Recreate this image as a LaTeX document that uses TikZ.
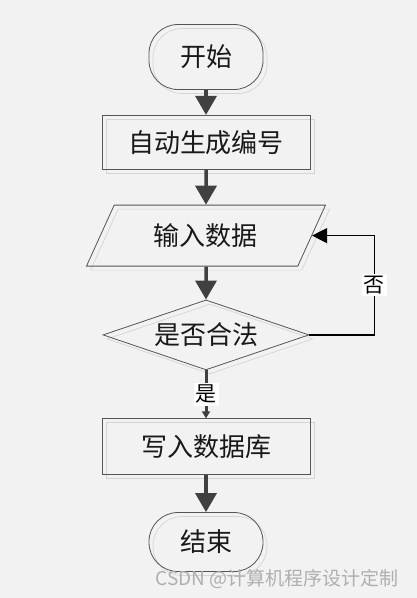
\documentclass[tikz,border=0pt]{standalone}
\usepackage{fontspec}
\setmainfont{Noto Sans CJK SC}
\usetikzlibrary{shapes,arrows.meta,positioning,shadows}
\definecolor{bggray}{RGB}{242,242,242}
\definecolor{linegray}{RGB}{64,64,64}
\definecolor{edgegray}{RGB}{85,85,85}
\definecolor{ghostgray}{RGB}{212,212,212}
\definecolor{markgray}{RGB}{175,175,175}

\begin{document}
\begin{tikzpicture}[
    x=1pt, y=1pt,
    node distance=25pt,
    base/.style={draw=edgegray, line width=0.8pt, text=black!90, align=center,
        font=\fontsize{26}{30}\selectfont,
        copy shadow={draw=ghostgray, fill=none, line width=0.7pt, shadow xshift=4pt, shadow yshift=-4pt}},
    term/.style={base, rectangle, rounded corners=29pt, minimum width=114pt, minimum height=62pt},
    proc/.style={base, rectangle, minimum width=208pt, minimum height=55pt},
    io/.style={base, trapezium, trapezium left angle=48, trapezium right angle=132,
        trapezium stretches body, minimum width=239pt, minimum height=61pt},
    check/.style={base, diamond, aspect=2.94, inner sep=0pt, minimum width=206pt, minimum height=70pt},
    arrow/.style={-{Triangle[width=21pt,length=19pt]}, line width=3.5pt, draw=linegray},
    back/.style={-{Triangle[width=15pt,length=15pt]}, line width=1.3pt, draw=black},
    tag/.style={fill=white, inner sep=2pt, font=\fontsize{21}{23}\selectfont}
]
    \useasboundingbox[fill=bggray] (0,0) rectangle (417,-598);

    % Start
    \node[term, minimum height=65pt] (start) at (206,-57) {开始};

    % Steps
    \node[proc, minimum height=54pt, below=25pt of start] (number) {自动生成编号};
    \node[io, below=35pt of number] (input) {输入数据};
    \node[check, below=33pt of input] (valid) {是否合法};
    \node[proc, minimum height=56pt, below=48pt of valid] (save) {写入数据库};

    % End
    \node[term, minimum height=59pt, below=37pt of save] (stop) {结束};

    % Edges
    \draw[arrow] (start) -- (number);
    \draw[arrow] (number) -- (input);
    \draw[arrow] (input) -- (valid);
    \draw[-{Triangle[width=8pt,length=7pt]}, line width=3pt, draw=linegray] (valid) -- node[tag] {是} (save);
    \draw[arrow] (save) -- (stop);
    \draw[back] (valid.east) -- ++(65,0) |- node[tag, pos=0.25] {否} (input.east);

    % Watermark
    \node[anchor=east, text=markgray, font=\fontsize{19}{21}\selectfont] (mark) at (402,-579) {CSDN @计算机程序设计定制};
\end{tikzpicture}
\end{document}
